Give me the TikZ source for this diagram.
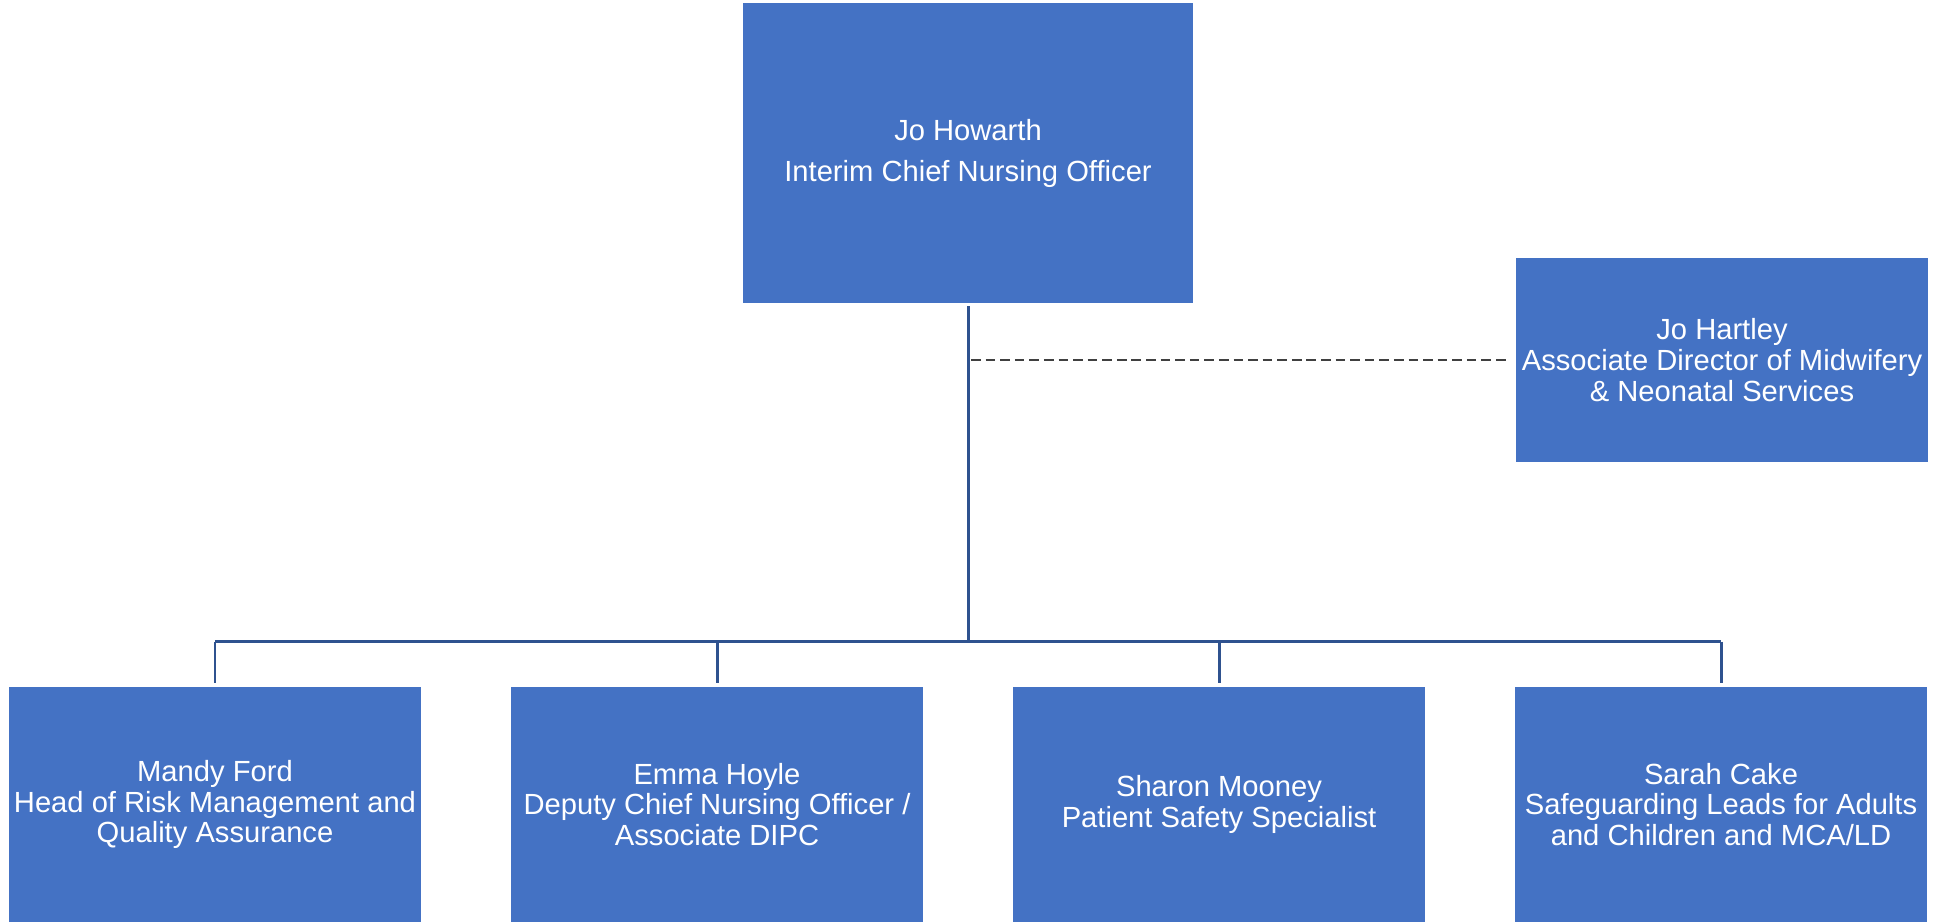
\documentclass[tikz,border=0pt]{standalone}
\usepackage{fontspec}
\setmainfont{Liberation Sans}
\definecolor{boxblue}{HTML}{4472C4}
\definecolor{linkblue}{HTML}{2F528F}
\definecolor{dashgrey}{HTML}{404040}

\begin{document}
\begin{tikzpicture}[x=0.02cm, y=-0.02cm,
                    main node/.style={rectangle,fill=boxblue,text=white,align=center,inner sep=0pt,
                                      font=\fontsize{16.6}{17.4}\selectfont},
                    low node/.style={main node,minimum width=8.24cm,minimum height=4.7cm},
                    link/.style={draw=linkblue,line width=1.7pt},
                    dotted link/.style={draw=dashgrey,line width=1.1pt,dash pattern=on 5.5pt off 2.8pt}]

  \useasboundingbox (0,0) rectangle (1942,921);

  \node[main node,minimum width=9cm,minimum height=6cm,
        font=\fontsize{16.6}{23.3}\selectfont] (cno) at (968,153) {Jo Howarth\\Interim Chief Nursing Officer};
  \node[main node,minimum width=8.24cm,minimum height=4.1cm] (adm) at (1722,360) {Jo Hartley\\Associate Director of Midwifery\\\& Neonatal Services};

  \node[low node] (risk) at (215,804.5) {Mandy Ford\\Head of Risk Management and\\Quality Assurance};
  \node[low node] (dcno) at (717,804.5) {Emma Hoyle\\Deputy Chief Nursing Officer /\\Associate DIPC};
  \node[low node] (psafe) at (1219,804.5) {Sharon Mooney\\Patient Safety Specialist};
  \node[low node] (guard) at (1721,804.5) {Sarah Cake\\Safeguarding Leads for Adults\\and Children and MCA/LD};

  \coordinate (hub) at ([yshift=0.9cm]cno.south |- risk.north);

\path[link]
       ([yshift=-0.06cm]cno.south) edge (hub)
       (risk.north |- hub) edge (guard.north |- hub);

\foreach \n in {risk,dcno,psafe,guard}
  \draw[link] (\n.north |- hub) -- ([yshift=0.08cm]\n.north);

\draw[dotted link] ([xshift=0.06cm]cno.south |- adm.west) -- ([xshift=-0.12cm]adm.west);

\end{tikzpicture}
\end{document}
